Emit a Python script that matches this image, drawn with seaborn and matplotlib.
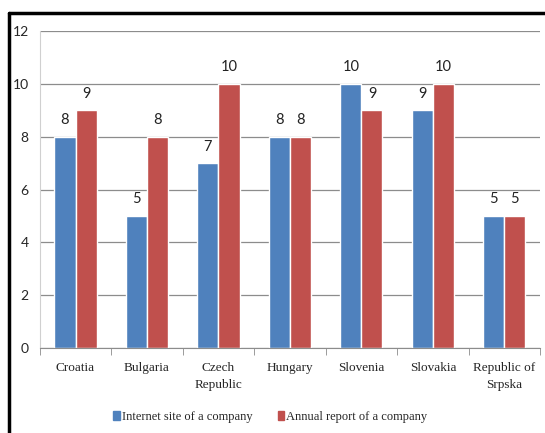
import pandas as pd
import matplotlib.pyplot as plt
import seaborn as sns
from matplotlib.lines import Line2D
from matplotlib.font_manager import FontProperties

# Data
countries = ['Croatia', 'Bulgaria', 'Czech\nRepublic', 'Hungary', 'Slovenia', 'Slovakia', 'Republic of\nSrpska']
internet_site = [8, 5, 7, 8, 10, 9, 5]
annual_report = [9, 8, 10, 8, 9, 10, 5]
series_names = ['Internet site of a company', 'Annual report of a company']

df = pd.DataFrame({
    'Country': countries * 2,
    'Value': internet_site + annual_report,
    'Series': [series_names[0]] * len(countries) + [series_names[1]] * len(countries),
})

sns.set_style('white')
plt.rcParams['font.family'] = ['Liberation Serif', 'DejaVu Serif']

fig = plt.figure(figsize=(5.45, 4.33), dpi=100)
ax = fig.add_axes([0.073, 0.196, 0.918, 0.732])

palette = {series_names[0]: '#4F81BD', series_names[1]: '#C0504D'}
sns.barplot(data=df, x='Country', y='Value', hue='Series', palette=palette,
            width=0.59, gap=0, saturation=1, ax=ax, legend=False)

# value labels above the bars
for cont in ax.containers:
    ax.bar_label(cont, padding=7, fontsize=10.5, family='Lato', color='#222222')

ax.set_ylim(0, 12)
ax.set_yticks(range(0, 13, 2))
ax.set_xlim(-0.5, len(countries) - 0.5)
ax.yaxis.grid(True, color='#8c8c8c', linewidth=0.9)
ax.set_axisbelow(True)
ax.set_xlabel('')
ax.set_ylabel('')

for s in ['top', 'right']:
    ax.spines[s].set_visible(False)
ax.spines['left'].set_color('#d0d0d0')
ax.spines['bottom'].set_color('#8c8c8c')

ax.tick_params(axis='y', labelsize=10, length=0, pad=8)
for lab in ax.get_yticklabels():
    lab.set_family('Lato')
ax.set_xticks(range(len(countries)))
ax.set_xticklabels(countries, fontproperties=FontProperties(family='Liberation Serif', size=9.5),
                   linespacing=1.6)
ax.set_xticks([i - 0.5 for i in range(len(countries) + 1)], minor=True)
ax.tick_params(axis='x', which='major', length=0, pad=10)
ax.tick_params(axis='x', which='minor', length=5, color='#8c8c8c', direction='out', bottom=True)

handles = [plt.Rectangle((0, 0), 1, 1, color=palette[n]) for n in series_names]
fig.legend(handles, series_names, loc='center', bbox_to_anchor=(0.496, 0.037), ncol=2,
           frameon=False, prop=FontProperties(family='Liberation Serif', size=9),
           handlelength=0.55, handleheight=0.8, handletextpad=0.15, columnspacing=2.0)

# outer frame (left and top edges visible in the original)
fig.add_artist(Line2D([9 / 545, 9 / 545], [0, 1 - 13 / 433], color='black', linewidth=2.5,
                      transform=fig.transFigure))
fig.add_artist(Line2D([9 / 545, 1], [1 - 13 / 433, 1 - 13 / 433], color='black', linewidth=2.5,
                      transform=fig.transFigure))

fig.savefig('out.png', dpi=100)
